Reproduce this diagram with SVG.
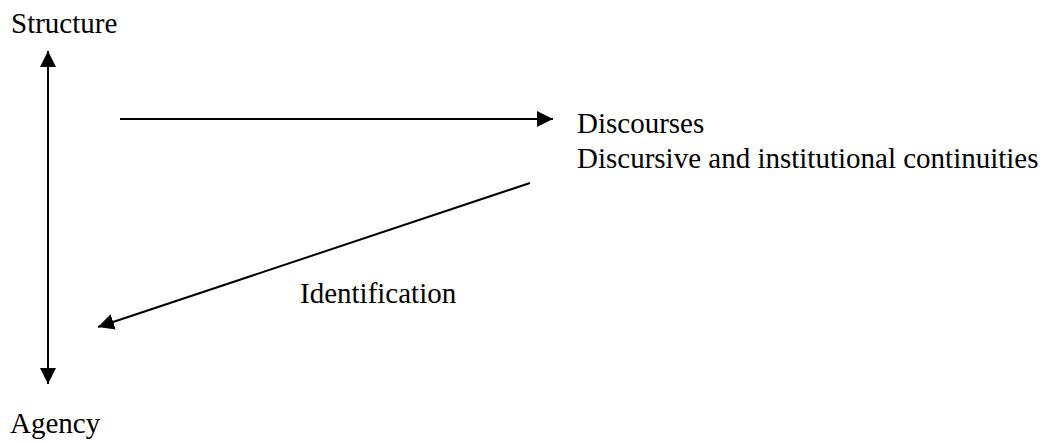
<svg xmlns="http://www.w3.org/2000/svg" width="1048" height="443" viewBox="0 0 1048 443">
<style>
text{font-family:"Liberation Serif","DejaVu Serif",serif;font-size:29px;fill:#000}
.c{stroke:#000;stroke-width:2;fill:none}
</style>
<defs>
<marker id="ah" markerUnits="userSpaceOnUse" markerWidth="18" markerHeight="18" viewBox="0 0 18 18" refX="16" refY="9" orient="auto-start-reverse">
<path d="M0,1 L16,9 L0,17 Z" fill="#000"/>
</marker>
</defs>
<rect width="1048" height="443" fill="#fff"/>
<g id="connectors">
<line class="c" x1="48" y1="51" x2="48" y2="384" marker-start="url(#ah)" marker-end="url(#ah)"/>
<line class="c" x1="120" y1="119" x2="553" y2="119" marker-end="url(#ah)"/>
<line class="c" x1="530" y1="183" x2="98" y2="327" marker-end="url(#ah)"/>
</g>
<g id="structure" font-family="Liberation Serif, serif"><text x="11" y="33">Structure</text></g>
<g id="agency" font-family="Liberation Serif, serif"><text x="10" y="433">Agency</text></g>
<g id="discourses" font-family="Liberation Serif, serif"><text x="577" y="133">Discourses</text><text x="577" y="168">Discursive and institutional continuities</text></g>
<g id="identification" font-family="Liberation Serif, serif"><text x="300" y="303">Identification</text></g>
</svg>
